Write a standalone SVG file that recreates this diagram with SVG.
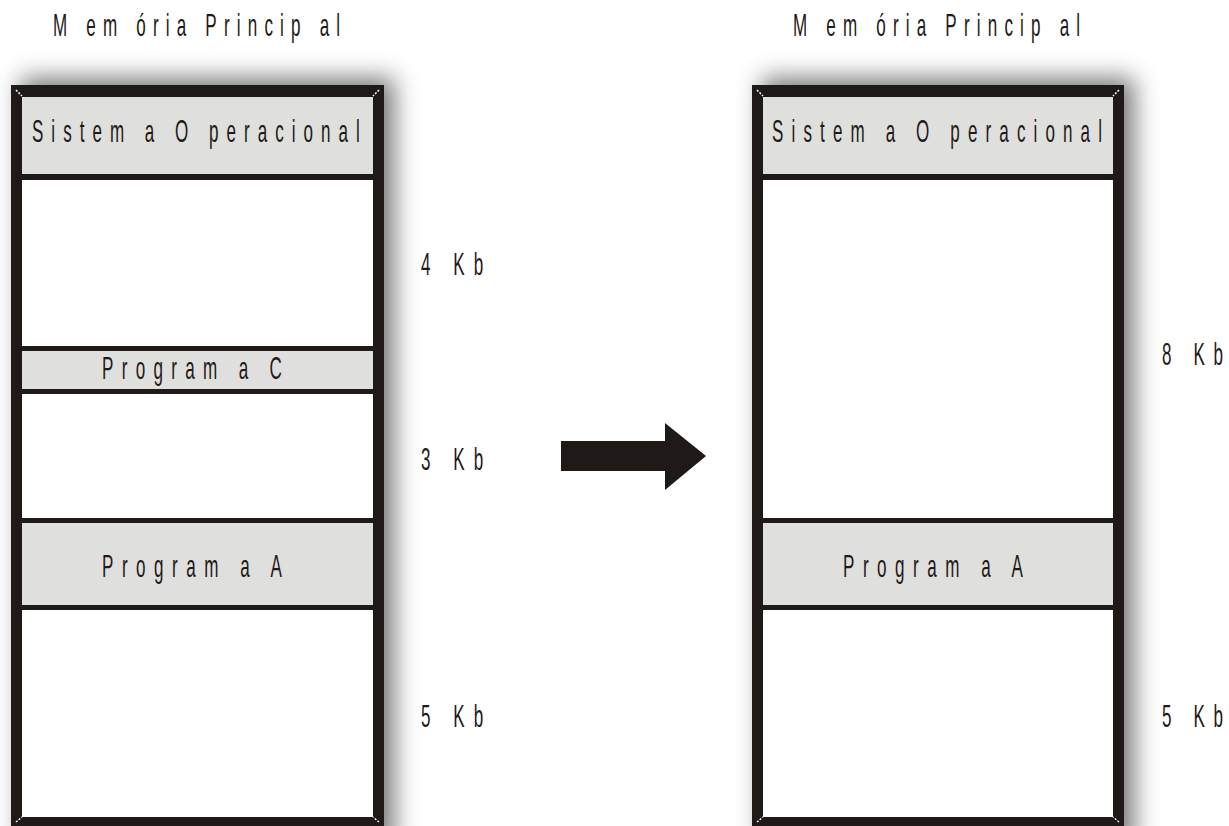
<svg xmlns="http://www.w3.org/2000/svg" width="1229" height="826" viewBox="0 0 1229 826">
<defs>
<filter id="sh" x="-20%" y="-10%" width="140%" height="120%">
<feGaussianBlur stdDeviation="12"/>
</filter>
</defs>
<style>
.frame{fill:#1f1a17}
.free{fill:#ffffff}
.used{fill:#dfdfde}
.div{fill:#1f1a17}
.shadow{fill:#555555;opacity:0.8}
.t{font-family:"Liberation Sans",Arial,sans-serif;font-size:31px;fill:#1f1a17;white-space:pre}
.corner{stroke:#ffffff;stroke-width:1.5;stroke-dasharray:2 1.5}
</style>
<rect width="1229" height="826" fill="#ffffff"/>

<g id="shadows">
<rect class="shadow" x="21" y="78" width="373" height="770" filter="url(#sh)"/>
<rect class="shadow" x="762" y="78" width="372" height="770" filter="url(#sh)"/>
</g>

<g id="left-memory">
<rect class="frame" x="11" y="85" width="373" height="745"/>
<rect class="free" x="22" y="97" width="351" height="720"/>
<line class="corner" x1="16" y1="90" x2="22" y2="96"/>
<line class="corner" x1="379" y1="90" x2="373" y2="96"/>
<line class="corner" x1="16" y1="822" x2="22" y2="817"/>
<line class="corner" x1="379" y1="822" x2="373" y2="817"/>
<text class="t" transform="translate(53,36) scale(0.55,1)" textLength="522" lengthAdjust="spacing">M em ória Princip al</text>
</g>

<g id="left-so">
<rect class="used" x="22" y="97" width="351" height="77"/>
<rect class="div" x="22" y="174" width="351" height="6"/>
<text class="t" transform="translate(32,142) scale(0.55,1)" textLength="596" lengthAdjust="spacing">Sistem a O peracional</text>
</g>

<g id="left-free-4kb">
<text class="t" transform="translate(421,275) scale(0.55,1)" textLength="113" lengthAdjust="spacing">4 Kb</text>
</g>

<g id="left-prog-c">
<rect class="div" x="22" y="346" width="351" height="5"/>
<rect class="used" x="22" y="351" width="351" height="38"/>
<rect class="div" x="22" y="389" width="351" height="5"/>
<text class="t" transform="translate(102,379) scale(0.55,1)" textLength="327" lengthAdjust="spacing">Program a C</text>
</g>

<g id="left-free-3kb">
<text class="t" transform="translate(421,470) scale(0.55,1)" textLength="113" lengthAdjust="spacing">3 Kb</text>
</g>

<g id="left-prog-a">
<rect class="div" x="22" y="518" width="351" height="5"/>
<rect class="used" x="22" y="523" width="351" height="82"/>
<rect class="div" x="22" y="605" width="351" height="5"/>
<text class="t" transform="translate(102,577) scale(0.55,1)" textLength="327" lengthAdjust="spacing">Program a A</text>
</g>

<g id="left-free-5kb">
<text class="t" transform="translate(421,727) scale(0.55,1)" textLength="113" lengthAdjust="spacing">5 Kb</text>
</g>

<g id="right-memory">
<rect class="frame" x="752" y="85" width="372" height="745"/>
<rect class="free" x="763" y="97" width="350" height="720"/>
<line class="corner" x1="757" y1="90" x2="763" y2="96"/>
<line class="corner" x1="1119" y1="90" x2="1113" y2="96"/>
<line class="corner" x1="757" y1="822" x2="763" y2="817"/>
<line class="corner" x1="1119" y1="822" x2="1113" y2="817"/>
<text class="t" transform="translate(793,36) scale(0.55,1)" textLength="522" lengthAdjust="spacing">M em ória Princip al</text>
</g>

<g id="right-so">
<rect class="used" x="763" y="97" width="350" height="77"/>
<rect class="div" x="763" y="174" width="350" height="6"/>
<text class="t" transform="translate(772,142) scale(0.55,1)" textLength="600" lengthAdjust="spacing">Sistem a O peracional</text>
</g>

<g id="right-free-8kb">
<text class="t" transform="translate(1162,365) scale(0.55,1)" textLength="111" lengthAdjust="spacing">8 Kb</text>
</g>

<g id="right-prog-a">
<rect class="div" x="763" y="518" width="350" height="5"/>
<rect class="used" x="763" y="523" width="350" height="82"/>
<rect class="div" x="763" y="605" width="350" height="5"/>
<text class="t" transform="translate(843,577) scale(0.55,1)" textLength="327" lengthAdjust="spacing">Program a A</text>
</g>

<g id="right-free-5kb">
<text class="t" transform="translate(1162,727) scale(0.55,1)" textLength="111" lengthAdjust="spacing">5 Kb</text>
</g>

<g id="connectors">
<polygon points="561,441 665,441 665,423 706,456 665,490 665,471 561,471" fill="#1f1a17"/>
</g>
</svg>
